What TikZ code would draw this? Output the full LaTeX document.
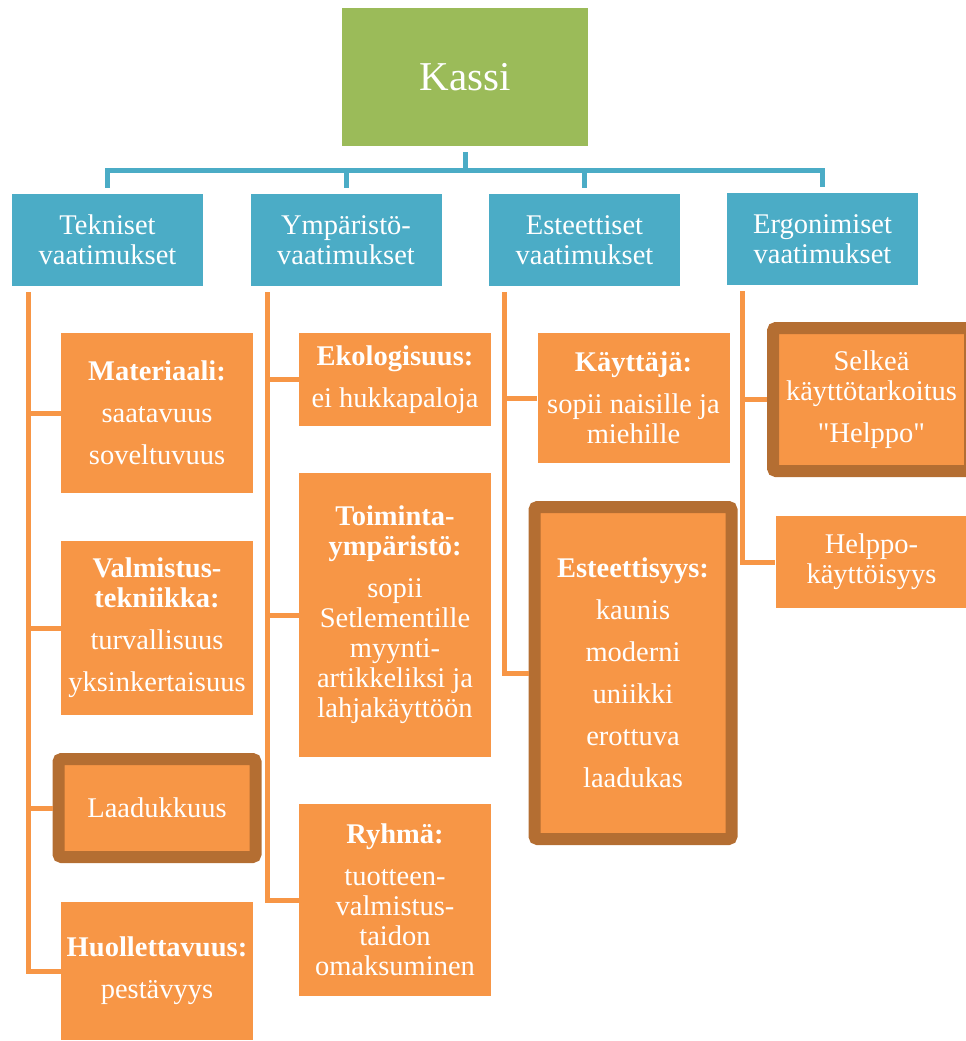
\documentclass[tikz,border=0pt]{standalone}
\usepackage{fontspec}
\setmainfont{Liberation Serif}
\usepackage{xcolor}
\usepackage{tikz}
\usetikzlibrary{calc,positioning}
\definecolor{kassigreen}{HTML}{9BBB59}
\definecolor{headblue}{HTML}{4BACC6}
\definecolor{itemorange}{HTML}{F79646}
\definecolor{edgebrown}{HTML}{B46E32}
\newcommand{\vgap}{\\[12pt]}

\begin{document}
\begin{tikzpicture}[x=1pt,y=-1pt,
	kassibox/.style={rectangle,fill=kassigreen,text=white,minimum width=246pt,minimum height=138pt,font=\fontsize{41}{45}\selectfont},
	headbox/.style={rectangle,fill=headblue,text=white,minimum width=191pt,minimum height=92pt,text width=188pt,inner sep=0pt,align=flush center,font=\fontsize{28.5}{30}\selectfont},
	itembox/.style={rectangle,fill=itemorange,text=white,minimum width=192pt,text width=190pt,inner sep=0pt,align=flush center,font=\fontsize{28.5}{30}\selectfont},
	strongbox/.style={itembox,draw=edgebrown,line width=12pt,rounded corners=3pt,minimum width=197pt},
	blueline/.style={headblue,line width=5pt},
	orangeline/.style={itemorange,line width=5pt}]
	\useasboundingbox (0,0) rectangle (966,1041);
	\node[kassibox] (kassi) at (465,77) {Kassi};
	\node[headbox] (tek) at (107.5,240) {Tekniset\\vaatimukset};
	\node[headbox] (ymp) at (346,240) {Ympäristö-\\vaatimukset};
	\node[headbox] (este) at (584.5,240) {Esteettiset\\vaatimukset};
	\node[headbox] (erg) at (822.5,239) {Ergonimiset\\vaatimukset};
	\coordinate (hub) at (465,170);
	\draw[blueline,shorten <=6pt] (kassi.south) -- (hub);
	\foreach \h in {tek,ymp,este,erg}
		\draw[blueline,shorten >=6pt] (hub) -| (\h.north);

	\node[itembox,minimum height=160pt] (mat) at (157,413) {\textbf{Materiaali:}\vgap saatavuus\vgap soveltuvuus};
	\node[itembox,minimum height=174pt] (val) at (157,628) {\textbf{Valmistus-}\\\textbf{tekniikka:}\vgap turvallisuus\vgap yksinkertaisuus};
	\node[strongbox,minimum height=98pt] (lad) at (157,808) {Laadukkuus};
	\node[itembox,minimum height=138pt] (huo) at (157,971) {\textbf{Huollettavuus:}\vgap pestävyys};

	\node[itembox,minimum height=93pt] (eko) at (395,379.5) {\textbf{Ekologisuus:}\vgap ei hukkapaloja};
	\node[itembox,minimum height=284pt] (toi) at (395,615) {\textbf{Toiminta-}\\\textbf{ympäristö:}\vgap sopii\\Setlementille\\myynti-\\artikkeliksi ja\\lahjakäyttöön};
	\node[itembox,minimum height=192pt] (ryh) at (395,900) {\textbf{Ryhmä:}\vgap tuotteen-\\valmistus-\\taidon\\omaksuminen};

	\node[itembox,minimum height=130pt] (kay) at (633.5,398) {\textbf{Käyttäjä:}\vgap sopii naisille ja\\miehille};
	\node[strongbox,minimum height=332pt] (esty) at (633,673) {\textbf{Esteettisyys:}\vgap kaunis\vgap moderni\vgap uniikki\vgap erottuva\vgap laadukas};

	\node[strongbox,minimum height=143pt] (sel) at (871.5,399.5) {Selkeä\\käyttötarkoitus\vgap \textquotedbl Helppo\textquotedbl};
	\node[itembox,minimum height=92pt] (hel) at (871.5,562) {Helppo-\\käyttöisyys};

	\coordinate (tekt) at ([xshift=17pt,yshift=-6pt]tek.south west);
	\coordinate (ympt) at ([xshift=17pt,yshift=-6pt]ymp.south west);
	\coordinate (estt) at ([xshift=16pt,yshift=-6pt]este.south west);
	\coordinate (ergt) at ([xshift=16pt,yshift=-6pt]erg.south west);
	\foreach \b in {mat,val,lad,huo}
		\draw[orangeline] (tekt) |- (\b.west);
	\foreach \b in {eko,toi,ryh}
		\draw[orangeline] (ympt) |- (\b.west);
	\foreach \b in {kay,esty}
		\draw[orangeline] (estt) |- (\b.west);
	\foreach \b in {sel,hel}
		\draw[orangeline] (ergt) |- (\b.west);
\end{tikzpicture}
\end{document}
